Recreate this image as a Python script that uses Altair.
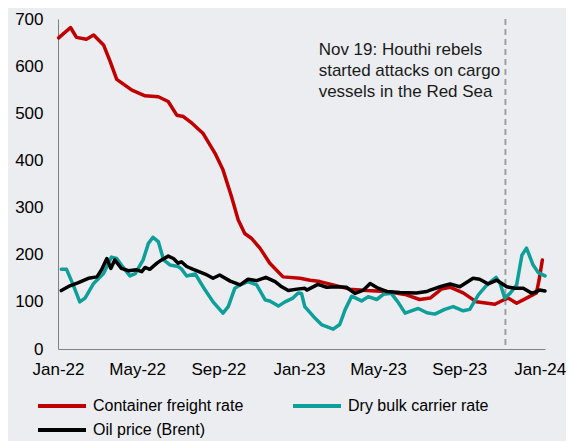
import altair as alt
import pandas as pd

START = "2022-01-01"  # day offsets below are days since this date

series_names = ["Container freight rate", "Dry bulk carrier rate", "Oil price (Brent)"]
series_colors = ["#C00000", "#0E9F9A", "#000000"]

container_days = [1, 19, 28, 43, 54, 69, 79, 89, 112, 132, 152, 167, 180, 190, 203, 220, 238, 250,
                  263, 273, 283, 293, 306, 321, 341, 367, 382, 397, 417, 442, 468, 498, 528, 548,
                  564, 581, 594, 614, 634, 662, 675, 682, 695, 710, 725, 729, 734]
container_vals = [660, 682, 661, 657, 666, 645, 610, 572, 549, 537, 535, 525, 496, 493, 479, 457, 415, 380,
                  323, 274, 245, 235, 214, 182, 153, 150, 146, 143, 136, 127, 124, 122, 115, 105,
                  108, 127, 131, 119, 100, 95, 104, 108, 97, 108, 119, 146, 189]

drybulk_days = [5, 13, 23, 33, 41, 54, 69, 81, 89, 96, 109, 117, 129, 137, 144, 152, 160, 170, 182,
                187, 195, 208, 223, 235, 250, 258, 268, 276, 288, 301, 314, 321, 334, 344, 356, 364,
                369, 374, 387, 400, 417, 427, 435, 445, 460, 470, 483, 493, 505, 515, 526, 546, 559,
                571, 586, 599, 614, 624, 637, 650, 664, 670, 677, 685, 695, 703, 710, 720, 728, 738]
drybulk_vals = [169, 169, 136, 100, 108, 139, 160, 195, 192, 178, 155, 160, 189, 224, 237, 228, 189, 178, 175,
                170, 155, 159, 125, 100, 76, 90, 129, 136, 143, 136, 104, 102, 91, 100, 108, 119,
                118, 90, 69, 51, 42, 52, 83, 112, 102, 111, 105, 116, 118, 100, 76, 86, 77,
                74, 84, 90, 81, 84, 115, 136, 152, 139, 108, 118, 136, 199, 214, 178, 162, 155]

oil_days = [5, 18, 31, 46, 59, 66, 74, 80, 86, 96, 107, 119, 127, 132, 139, 150, 157, 167, 175, 182,
            187, 195, 205, 223, 235, 245, 261, 276, 288, 301, 315, 329, 339, 349, 362, 374, 377, 394,
            407, 422, 437, 450, 463, 473, 485, 498, 518, 543, 559, 564, 579, 594, 609, 629, 639, 652,
            665, 680, 692, 705, 718, 730, 738]
oil_vals = [124, 134, 141, 150, 153, 168, 192, 171, 189, 171, 166, 168, 164, 173, 169, 182, 189, 197, 192, 182,
            185, 175, 169, 159, 150, 157, 144, 136, 148, 145, 152, 143, 132, 124, 127, 129, 125, 137,
            131, 132, 131, 118, 125, 139, 129, 122, 120, 119, 122, 125, 132, 138, 132, 150, 148, 138,
            146, 132, 129, 129, 118, 125, 123]

event_date = "2023-11-10"
event_text = ["Nov 19: Houthi rebels", "started attacks on cargo", "vessels in the Red Sea"]
event_text_date = "2023-01-31"
event_text_value = 634

x_ticks = ["2022-01-01", "2022-05-01", "2022-09-01", "2023-01-01", "2023-05-01", "2023-09-01", "2024-01-01"]


def frame(days, vals, name):
    return pd.DataFrame({
        "date": pd.Timestamp(START) + pd.to_timedelta(days, unit="D"),
        "value": vals,
        "series": name,
    })


data = pd.concat([
    frame(container_days, container_vals, series_names[0]),
    frame(drybulk_days, drybulk_vals, series_names[1]),
    frame(oil_days, oil_vals, series_names[2]),
])

FONT = "Liberation Sans"

x_enc = alt.X(
    "date:T",
    title=None,
    scale=alt.Scale(domain=[alt.DateTime(year=2022, month=1, date=1),
                            alt.DateTime(year=2024, month=1, date=9)]),
    axis=alt.Axis(format="%b-%y", values=[alt.DateTime(year=int(d[:4]), month=int(d[5:7]), date=1) for d in x_ticks],
                  grid=False, ticks=False, domainColor="#808080", domainWidth=1,
                  labelFontSize=17, labelFont=FONT, labelColor="#000000", labelPadding=12,
                  labelOverlap=False, labelFlush=False, labelAlign="center"),
)

y_enc = alt.Y(
    "value:Q",
    title=None,
    scale=alt.Scale(domain=[0, 700]),
    axis=alt.Axis(values=list(range(0, 701, 100)), grid=False, ticks=False,
                  domainColor="#808080", domainWidth=1, labelFontSize=17, labelFont=FONT,
                  labelColor="#000000", labelPadding=15),
)

lines = alt.Chart(data).mark_line(strokeWidth=3.5, strokeJoin="round", strokeCap="round").encode(
    x=x_enc,
    y=y_enc,
    color=alt.Color(
        "series:N",
        scale=alt.Scale(domain=series_names, range=series_colors),
        legend=alt.Legend(
            title=None, orient="none", legendX=-8, legendY=375, columns=2, direction="horizontal",
            columnPadding=41, rowPadding=4, symbolType="M-2.4,0H2.4", symbolSize=400,
            symbolStrokeWidth=4, labelFontSize=16, labelFont=FONT, labelColor="#000000",
            labelOffset=19, labelLimit=0, padding=0,
        ),
    ),
    detail="series:N",
)

event_df = pd.DataFrame({"date": [pd.Timestamp(event_date)]})
rule = alt.Chart(event_df).mark_rule(color="#A0A0A0", strokeWidth=2, strokeDash=[6, 4]).encode(
    x="date:T"
)

text_df = pd.DataFrame({"date": [pd.Timestamp(event_text_date)], "value": [event_text_value]})
text = alt.Chart(text_df).mark_text(
    align="left", baseline="middle", fontSize=17, font=FONT, color="#1a1a1a",
    lineHeight=21, text=event_text,
).encode(x="date:T", y="value:Q")

chart = alt.layer(rule, lines, text).properties(
    width=487, height=330,
    autosize=alt.AutoSizeParams(type="none"),
    padding={"left": 50, "top": 11, "right": 21, "bottom": 92},
    background="#ECEDF0",
).configure_view(stroke=None)

chart.save("out.html", embed_options={"renderer": "svg", "actions": False})
